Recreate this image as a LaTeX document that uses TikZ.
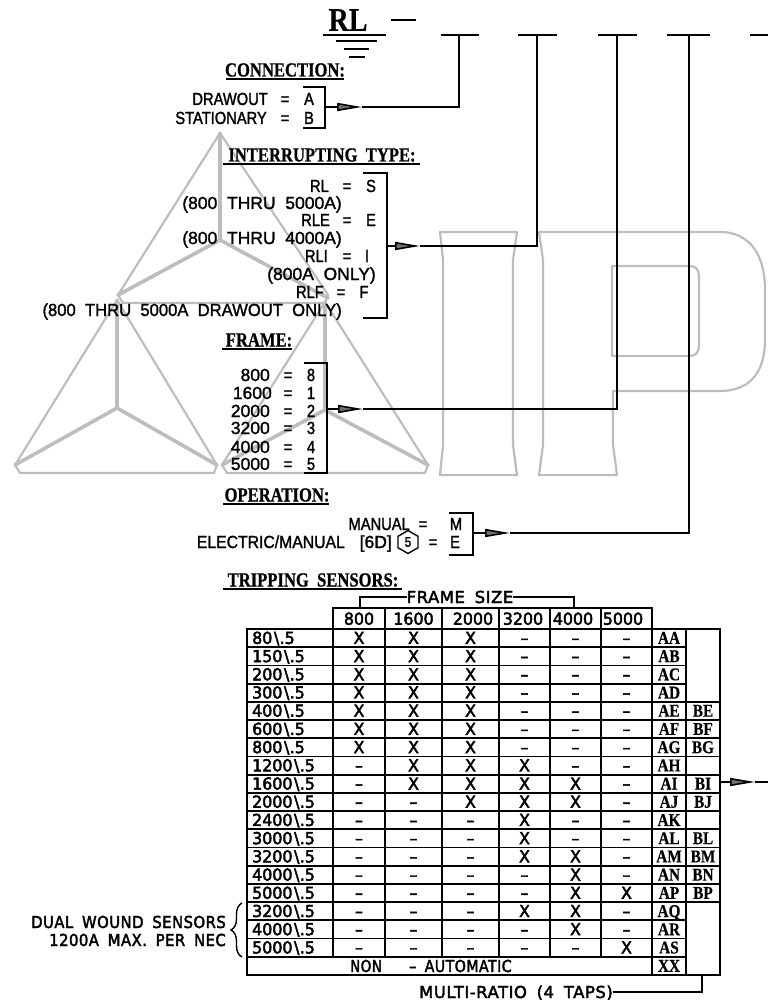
\documentclass[tikz,border=0pt]{standalone}
\usepackage{fontspec}
\usepackage{tikz}
\usetikzlibrary{arrows.meta, shapes.geometric, decorations.pathreplacing}
\setmainfont{Liberation Sans}
\newfontfamily\cadfont[FakeStretch=.84,FakeBold=1.6,WordSpace=1.8,Ligatures=TeX]{Liberation Sans}
\newfontfamily\notefont[FakeStretch=1,FakeBold=1.6,WordSpace=2.0,Ligatures=TeX]{Liberation Sans}
\newfontfamily\gridfont[FakeStretch=.96,FakeBold=2.8,WordSpace=1.4,Ligatures=TeX]{DejaVu Sans}
\newfontfamily\widefont[FakeStretch=1,FakeBold=2.6,WordSpace=1.7,LetterSpace=3,Ligatures=TeX]{DejaVu Sans}
\newfontfamily\headfont[FakeStretch=.83,FakeBold=.8,WordSpace=2.0]{Liberation Serif}
\newfontfamily\slabfont[FakeStretch=.85,FakeBold=.5]{Liberation Serif}
\definecolor{ghost}{HTML}{BDBDBD}
\definecolor{tipgray}{HTML}{6E6E6E}
\newcommand{\bsl}{\hspace{.1em}\textbackslash\hspace{.02em}}
\tikzset{
  wire/.style={draw=black, line width=1.6pt},
  grid/.style={draw=black, line width=1.8pt, line cap=rect},
  pointer/.style={wire, -{Triangle[length=25pt, width=8pt, fill=tipgray]}},
  ghostline/.style={draw=ghost, line width=2.2pt, line join=round},
  ghostbar/.style={draw=ghost, line width=3.6pt, line cap=round},
  cadtext/.style={inner sep=0pt, text height=12pt, text depth=0pt, font=\cadfont\fontsize{17.5}{20}\selectfont},
  notetext/.style={inner sep=0pt, text height=12pt, text depth=0pt, font=\notefont\fontsize{17.5}{20}\selectfont},
  gridtext/.style={inner sep=0pt, text height=11.5pt, text depth=0pt, font=\gridfont\fontsize{16.5}{18}\selectfont},
  widetext/.style={inner sep=0pt, text height=12pt, text depth=0pt, font=\widefont\fontsize{16.5}{18}\selectfont},
  codetext/.style={gridtext, font=\slabfont\bfseries\fontsize{18}{18}\selectfont},
  headtext/.style={inner sep=0pt, text height=13pt, text depth=0pt, font=\headfont\bfseries\fontsize{20}{22}\selectfont}
}

\begin{document}
\begin{tikzpicture}[x=1pt, y=-1pt]
  \useasboundingbox (0,0) rectangle (768,1000);

  % watermark
  \foreach \ax/\ay/\lx/\ly/\rx/\ry/\my in {220/133/118/295/328/298/240, 117/300/15/465/217/465/408, 325/302/222/465/428/465/410} {
    \draw[ghostline] (\ax,\ay) -- (\lx,\ly) -- (\lx+5,\ly+8) -- (\rx-3,\ly+8) -- (\rx,\ly) -- cycle;
    \draw[ghostbar] (\ax,\ay) -- (\ax,\my) (\lx,\ly) -- (\ax,\my) -- (\rx,\ry);
  }
  \draw[ghostline] (440,232) -- (517,232) -- (513,260) -- (513,445) -- (517,475) -- (440,475) -- (443,445) -- (443,260) -- cycle;
  \draw[ghostline] (539,232) -- (720,232) .. controls (750,232) and (765,255) .. (765,290) -- (765,340)
    .. controls (765,372) and (750,391) .. (720,391) -- (613,391) -- (613,445) -- (617,475) -- (539,475)
    -- (543,445) -- (543,260) -- cycle;
  \draw[ghostline] (612,266) -- (690,266) .. controls (696,266) and (699,270) .. (699,277) -- (699,345)
    .. controls (699,352) and (696,356) .. (690,356) -- (612,356) -- cycle;

  % part number
  \node[inner sep=0pt, font=\slabfont\bfseries\fontsize{33}{34}\selectfont] (series) at (348,20) {RL};
  \foreach \xa/\xb/\ty in {323/386/35, 336/377/41, 344/369/49, 349/365/57}
    \draw[line width=1.8pt] (\xa,\ty) -- (\xb,\ty);
  \coordinate (dashL) at (391,20);
  \coordinate (dashR) at (416,20);
  \draw[line width=1.6pt] (dashL) -- (dashR);
  \foreach \xa/\xb in {441/479, 518/557, 598/637, 667/710, 750/768}
    \draw[wire] (\xa,35) -- (\xb,35);
  \coordinate (slot1) at (459,35);
  \coordinate (slot2) at (537,35);
  \coordinate (slot3) at (617,35);
  \coordinate (slot4) at (689,35);

  % section titles
  \foreach \name/\lbl/\tx/\ty/\xa/\xb in {conn/CONNECTION:/285/70/226/344, inter/INTERRUPTING TYPE:/322/155/223/420,
      frame/FRAME:/259/340/222/292, oper/OPERATION:/277/495/223/329, trip/TRIPPING SENSORS:/313/580/223/402} {
    \node[headtext] (\name) at (\tx,\ty) {\lbl};
    \draw[line width=1.5pt] (\xa,\ty+9) -- (\xb,\ty+9);
  }

  % code rows
  \foreach \sty/\lbl/\lx/\ty/\ex/\vx/\val [count=\n] in {cadtext/DRAWOUT/268/99/285/309/A, cadtext/STATIONARY/267/118/285/309/B,
      cadtext/RL/329/186/347/371/S, cadtext/RLE/330/220/347/371/E, cadtext/RLI/328/256/347/367/I, cadtext/RLF/324/292/341/364/F,
      notetext/800/270/375/288/311/8, notetext/1600/272/393/288/311/1, notetext/2000/270/411/288/311/2, notetext/3200/270/428/288/311/3,
      notetext/4000/270/447/288/311/4, notetext/5000/270/464/288/311/5, cadtext/MANUAL/410/524/423/456/M} {
    \node[\sty, anchor=east] (lbl\n) at (\lx,\ty) {\lbl};
    \node[cadtext] (eq\n) at (\ex,\ty) {=};
    \node[cadtext] (val\n) at (\vx,\ty) {\val};
  }
  \node[notetext, anchor=east] (noteA) at (342,203) {(800 THRU 5000A)};
  \node[notetext, anchor=east] (noteB) at (342,238) {(800 THRU 4000A)};
  \node[notetext, anchor=east] (noteC) at (376,274) {(800A ONLY)};
  \node[notetext, anchor=east] (noteD) at (342,310) {\scalebox{.95}[1]{(800 THRU 5000A DRAWOUT ONLY)}};
  \node[notetext, anchor=east] (elec) at (345,542) {\scalebox{.9}[1]{ELECTRIC/MANUAL}};
  \node[notetext, anchor=east] (elecCode) at (392,542) {[6D]};
  \node[draw, line width=1.4pt, regular polygon, regular polygon sides=6, shape border rotate=30,
        minimum size=23pt, inner sep=0pt, font=\cadfont\fontsize{14}{14}\selectfont] (note5) at (408,542) {5};
  \node[cadtext] (elecEq) at (433,542) {=};
  \node[cadtext] (elecVal) at (455,542) {E};

  % brackets and connectors
  \foreach \xa/\xb/\ya/\yb/\ty/\tipx/\n in {303/325/87/128/107/362/1, 363/387/173/318/246/420/2,
      304/327/363/473/409/363/3, 449/473/513/555/533/510/4} {
    \draw[wire] (\xa,\ya) -| (\xb,\yb) -- (\xa,\yb);
    \coordinate (tail\n) at (\xb,\ty);
    \coordinate (tip\n) at (\tipx,\ty);
    \draw[pointer] (tail\n) -- (tip\n);
    \draw[wire] (tip\n) -| (slot\n);
  }

  % frame size bracket
  \node[widetext] (frameSize) at (460,597) {FRAME SIZE};
  \coordinate (frameL) at (360,608);
  \coordinate (frameR) at (574,608);
  \draw[wire] (frameSize.west) -| (frameL);
  \draw[wire] (frameSize.east) -| (frameR);

  % table grid
  \draw[grid] (333,608) -- (652,608);
  \foreach \cx in {333,385,442,499,550,601}
    \draw[grid] (\cx,608) -- (\cx,957);
  \draw[grid] (652,608) -- (652,975);
  \foreach \cx in {247,686,720}
    \draw[grid] (\cx,629) -- (\cx,975);
  \foreach \r in {0,...,19} {
    \pgfmathsetmacro\ry{629+18.21*\r}
    \draw[grid] (247,\ry) -- (686,\ry);
  }
  \foreach \r in {0,4,5,...,15,19} {
    \pgfmathsetmacro\ry{629+18.21*\r}
    \draw[grid] (686,\ry) -- (720,\ry);
  }

  % table text
  \foreach \cx/\lbl [count=\c] in {359/800, 413.5/1600, 473/2000, 523/3200, 573/4000, 623/5000}
    \node[gridtext] (size\c) at (\cx,619) {\lbl};
  \foreach \cx [count=\c] in {359,413.5,470.5,524.5,575.5,626.5}
    \coordinate (col\c) at (\cx,0);
  \foreach \lbl/\marks/\ca/\cb [count=\r] in {
      80/{X,X,X,--,--,--}/AA/{}, 150/{X,X,X,--,--,--}/AB/{}, 200/{X,X,X,--,--,--}/AC/{}, 300/{X,X,X,--,--,--}/AD/{},
      400/{X,X,X,--,--,--}/AE/BE, 600/{X,X,X,--,--,--}/AF/BF, 800/{X,X,X,--,--,--}/AG/BG, 1200/{--,X,X,X,--,--}/AH/{},
      1600/{--,X,X,X,X,--}/AI/BI, 2000/{--,--,X,X,X,--}/AJ/BJ, 2400/{--,--,--,X,--,--}/AK/{}, 3000/{--,--,--,X,--,--}/AL/BL,
      3200/{--,--,--,X,X,--}/AM/BM, 4000/{--,--,--,--,X,--}/AN/BN, 5000/{--,--,--,--,X,X}/AP/BP, 3200/{--,--,--,X,X,--}/AQ/{},
      4000/{--,--,--,--,X,--}/AR/{}, 5000/{--,--,--,--,--,X}/AS/{}} {
    \pgfmathsetmacro\ry{629+18.21*(\r-.5)}
    \node[gridtext, anchor=west] (ratio\r) at (252,\ry) {\lbl\bsl.5};
    \foreach \m [count=\c] in \marks
      \node[gridtext] (cell-\r-\c) at (col\c |- 0,\ry) {\m};
    \node[codetext] (codeA\r) at (669,\ry) {\ca};
    \node[codetext] (codeB\r) at (703,\ry) {\cb};
  }
  \node[widetext, anchor=west] (nonAuto) at (350,966) {\scalebox{.82}[1]{NON}};
  \node[widetext, anchor=west] (autoLbl) at (409,966) {\scalebox{.86}[1]{-- AUTOMATIC}};
  \node[codetext] (codeXX) at (669,966) {XX};

  % side notes
  \node[widetext, anchor=east] (dualA) at (226,922) {\scalebox{.9}[1]{DUAL WOUND SENSORS}};
  \node[widetext, anchor=east] (dualB) at (226,940) {\scalebox{.9}[1]{1200A MAX. PER NEC}};
  \coordinate (braceB) at (242,957);
  \coordinate (braceT) at (242,903);
  \draw[line width=1.4pt, decorate, decoration={brace, amplitude=11pt}] (braceB) -- (braceT);

  \coordinate (codeTail) at (720,782);
  \coordinate (codeTip) at (755,782);
  \coordinate (codeEnd) at (768,782);
  \draw[pointer] (codeTail) -- (codeTip);
  \draw[wire] (codeTip) -- (codeEnd);

  \node[widetext, anchor=east] (multi) at (613,992) {MULTI-RATIO (4 TAPS)};
  \coordinate (multiUp) at (702,975);
  \draw[wire] (multi.east) -| (multiUp);
\end{tikzpicture}
\end{document}
